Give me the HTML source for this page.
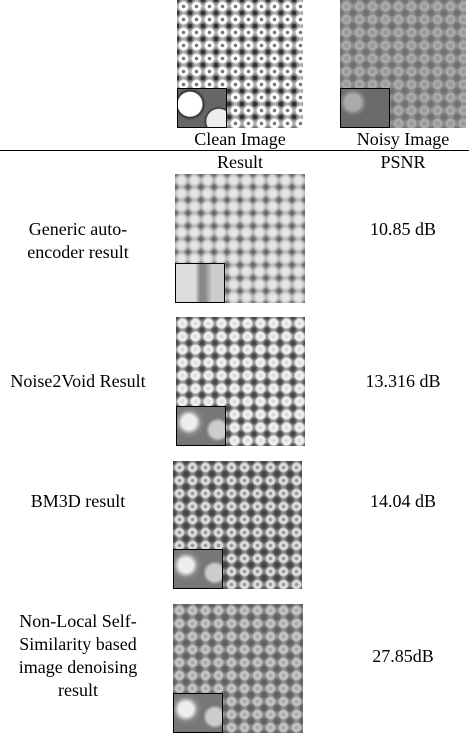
<!DOCTYPE html>
<html><head><meta charset="utf-8"><style>
body{margin:0;width:469px;height:737px;background:#fff;position:relative;overflow:hidden;font-family:"Liberation Serif","Times New Roman",Times,serif;font-size:18px;color:#000}
.t{position:absolute;text-align:center;line-height:23px;white-space:nowrap;font-family:"Liberation Serif","Times New Roman",Times,"DejaVu Serif",serif;font-size:18px}
.img{position:absolute;overflow:hidden}
.ins{position:absolute;left:0;bottom:0;width:48px;height:38px;border:1px solid #000}
.clean{background:radial-gradient(circle at 50% 50%,#777 0 1.5px,#fff 2px 4px,#e8e8e8 4.5px,transparent 5.5px),radial-gradient(circle at 50% 50%,#333 0 2px,#888 3px,transparent 6px) 6.5px 6.5px,#b4b4b4;background-size:13px 13px}
.noisy{background:radial-gradient(circle at 50% 50%,#9a9a9a 0 2px,#adadad 3px 4px,transparent 5.5px),radial-gradient(circle at 50% 50%,#707070 0 2px,transparent 5px) 6.5px 6.5px,#8e8e8e;background-size:13px 13px}
.ae{background:radial-gradient(circle at 50% 50%,#e6e6e6 0 3px,transparent 7px),radial-gradient(circle at 50% 50%,#666 0 1px,transparent 5px) 6.5px 6.5px,#b0b0b0;background-size:13px 13px}
.n2v{background:radial-gradient(circle at 50% 50%,#ddd 0 1.5px,#f0f0f0 2.5px 4px,transparent 6px),radial-gradient(circle at 50% 50%,#444 0 1.5px,transparent 5px) 6.5px 6.5px,#999;background-size:13px 13px}
.bm{background:radial-gradient(circle at 50% 50%,#999 0 1.5px,#dcdcdc 2px 4px,transparent 5.5px),radial-gradient(circle at 50% 50%,#444 0 2px,transparent 5.5px) 6.5px 6.5px,#8e8e8e;background-size:13px 13px}
.nl{background:radial-gradient(circle at 50% 50%,#a8a8a8 0 1.5px,#c2c2c2 2px 4px,transparent 5.5px),radial-gradient(circle at 50% 50%,#606060 0 2px,transparent 5.5px) 6.5px 6.5px,#909090;background-size:13px 13px}
.insC{background:radial-gradient(circle at 25% 40%,#fff 0 12px,#333 13px,transparent 16px),radial-gradient(circle at 85% 85%,#eee 0 12px,#333 13px,transparent 15px),#666}
.insN{background:radial-gradient(circle at 25% 35%,#aaa 0 8px,#777 12px,transparent 15px),#6a6a6a}
.insA{background:linear-gradient(90deg,#ddd 0 40%,#888 50% 60%,#ccc 75%),#aaa}
.insB{background:radial-gradient(circle at 25% 40%,#eee 0 7px,#888 12px,transparent 16px),radial-gradient(circle at 85% 60%,#ccc 0 8px,transparent 12px),#777}
</style></head><body>
<div class="img clean" style="left:177px;top:0;width:126px;height:128px"><div class="ins insC"></div></div>
<div class="img noisy" style="left:340px;top:0;width:126px;height:128px"><div class="ins insN"></div></div>
<div class="t" style="left:177px;width:126px;top:128px">Clean Image</div>
<div class="t" style="left:340px;width:126px;top:128px">Noisy Image</div>
<div style="position:absolute;left:0;top:150px;width:469px;height:1px;background:#000"></div>
<div class="t" style="left:177px;width:126px;top:151px">Result</div>
<div class="t" style="left:340px;width:126px;top:151px">PSNR</div>

<div class="t" style="left:0;width:156px;top:218px">Generic auto-<br>encoder result</div>
<div class="img ae" style="left:175px;top:174px;width:130px;height:129px"><div class="ins insA"></div></div>
<div class="t" style="left:340px;width:126px;top:218px">10.85 dB</div>

<div class="t" style="left:0;width:156px;top:370px">Noise2Void Result</div>
<div class="img n2v" style="left:176px;top:317px;width:129px;height:129px"><div class="ins insB"></div></div>
<div class="t" style="left:340px;width:126px;top:370px">13.316 dB</div>

<div class="t" style="left:0;width:156px;top:490px">BM3D result</div>
<div class="img bm" style="left:173px;top:461px;width:129px;height:128px"><div class="ins insB"></div></div>
<div class="t" style="left:340px;width:126px;top:490px">14.04 dB</div>

<div class="t" style="left:0;width:156px;top:610px">Non-Local Self-<br>Similarity based<br>image denoising<br>result</div>
<div class="img nl" style="left:173px;top:604px;width:130px;height:129px"><div class="ins insB"></div></div>
<div class="t" style="left:340px;width:126px;top:645px">27.85dB</div>
</body></html>
